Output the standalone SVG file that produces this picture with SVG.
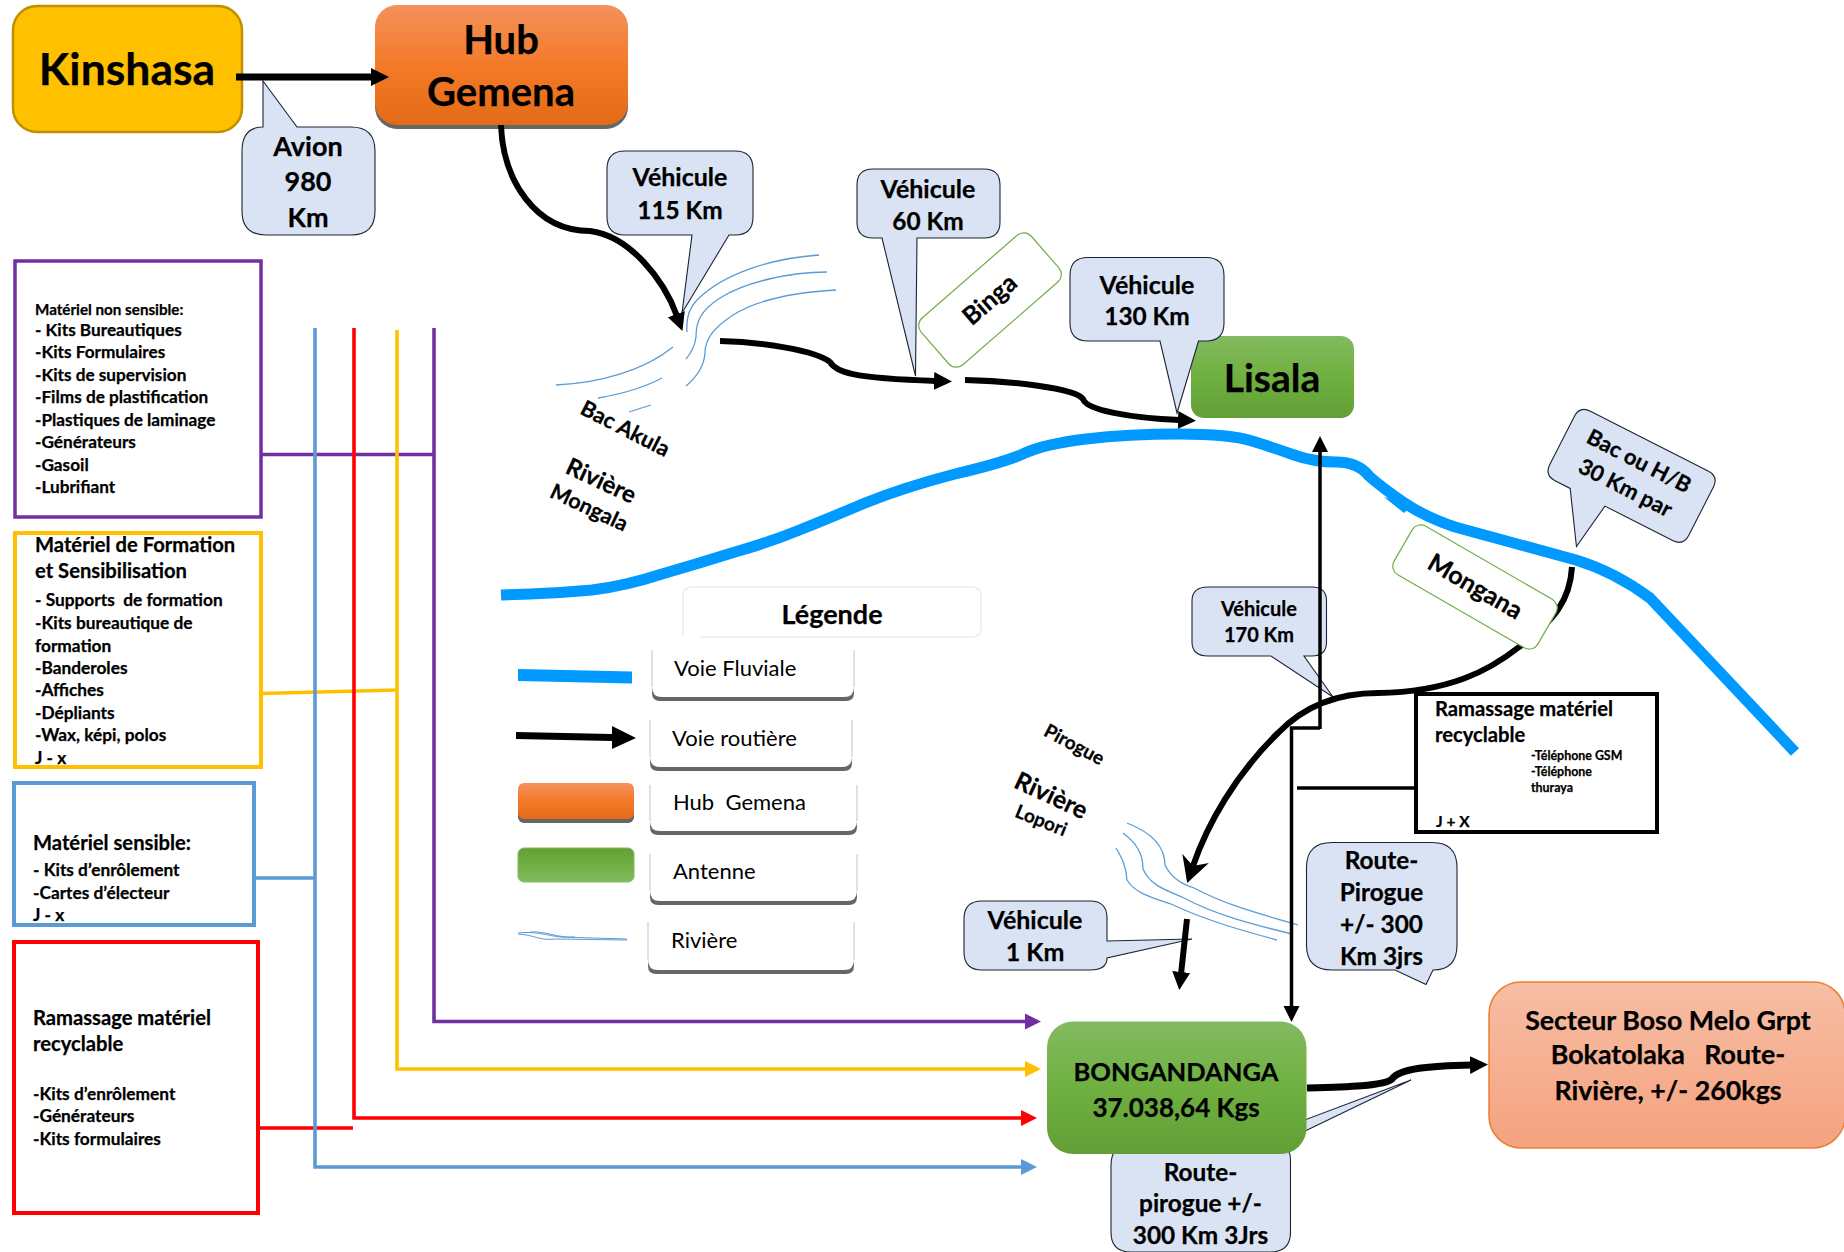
<svg xmlns="http://www.w3.org/2000/svg" width="1844" height="1252" viewBox="0 0 1844 1252">
<style>
text{font-family:"Lato","Carlito","Noto Sans",sans-serif;font-weight:700;fill:#000;stroke:#000;stroke-width:.25}
.m{text-anchor:middle}
.l{font-weight:400;stroke:none}
.s15{font-size:17.2px}.s18{font-size:20.2px}.s16{font-size:17.3px}
.s24{font-size:25px}.s23{font-size:24.4px}.s21{font-size:22px}.s20{font-size:21.5px}.lg{font-size:22px}
.c{fill:#DAE3F3;stroke:#1c2433;stroke-width:1.1}
.tag{fill:#fff;stroke:#70AD47;stroke-width:1.2}
.rv{fill:none;stroke:#5B9BD5;stroke-width:1.3}
.road{fill:none;stroke:#000;stroke-width:6}
.thin{fill:none;stroke:#000;stroke-width:3.5}
.wire{fill:none;stroke-width:3.6}
.river{fill:none;stroke:#0099FF;stroke-width:11;stroke-linejoin:round}
.sh{fill:#666}
.lb{fill:#fff}
.ls{fill:none;stroke:#c4c4c4;stroke-width:1}
</style>
<defs>
<linearGradient id="go" x1="0" y1="0" x2="0" y2="1"><stop offset="0" stop-color="#F4915C"/><stop offset=".5" stop-color="#F47A28"/><stop offset="1" stop-color="#E36A17"/></linearGradient>
<linearGradient id="gg" x1="0" y1="0" x2="0" y2="1"><stop offset="0" stop-color="#83BA61"/><stop offset=".5" stop-color="#6FB040"/><stop offset="1" stop-color="#629F36"/></linearGradient>
<linearGradient id="gr" x1="0" y1="1" x2="0" y2="0"><stop offset="0" stop-color="#83BA61"/><stop offset=".5" stop-color="#6FB040"/><stop offset="1" stop-color="#629F36"/></linearGradient>
<linearGradient id="gs" x1="0" y1="0" x2="0" y2="1"><stop offset="0" stop-color="#F7BEA4"/><stop offset="1" stop-color="#F5A27F"/></linearGradient>
<marker id="h" markerUnits="userSpaceOnUse" markerWidth="22" markerHeight="22" refX="2" refY="10" orient="auto"><path d="M0 1L18 10L0 19Z"/></marker>
<marker id="hn" markerUnits="userSpaceOnUse" markerWidth="30" markerHeight="30" refX="8" refY="15" orient="auto"><path d="M0 1L26 15L0 29L8 15Z"/></marker>
<marker id="t" markerUnits="userSpaceOnUse" markerWidth="20" markerHeight="20" refX="2" refY="9" orient="auto"><path d="M0 1L16 9L0 17Z"/></marker>
<marker id="mp" markerUnits="userSpaceOnUse" markerWidth="20" markerHeight="20" refX="2" refY="9" orient="auto"><path d="M0 1L16 9L0 17Z" fill="#7030A0"/></marker>
<marker id="my" markerUnits="userSpaceOnUse" markerWidth="20" markerHeight="20" refX="2" refY="9" orient="auto"><path d="M0 1L16 9L0 17Z" fill="#FFC000"/></marker>
<marker id="mr" markerUnits="userSpaceOnUse" markerWidth="20" markerHeight="20" refX="2" refY="9" orient="auto"><path d="M0 1L16 9L0 17Z" fill="#FF0000"/></marker>
<marker id="mb" markerUnits="userSpaceOnUse" markerWidth="20" markerHeight="20" refX="2" refY="9" orient="auto"><path d="M0 1L16 9L0 17Z" fill="#5B9BD5"/></marker>
</defs>

<g id="riviere-mongala-voie">
<path class="river" d="M501 595L530 594Q560 593 592 590Q625 586 662 574Q700 563 735 552Q770 542 797 531Q825 520 865 503Q905 487 955 474Q1006 462 1025 453Q1045 444 1086 439Q1128 434 1179 434Q1230 434 1252 441Q1275 448 1294 455Q1314 462 1336 462Q1358 462 1369 476Q1380 486 1403 502Q1425 517 1455 527L1576 560Q1615 572 1650 598L1795 752"/>
<path d="M1384 497L1412 505L1404 513Z" fill="#0099FF"/>
</g>

<g id="rivieres" class="rv">
<path d="M819 255C775 258 725 272 697 300C688 309 686 320 687 332"/>
<path d="M827 272C790 272 745 282 720 298C700 311 696 322 696 337C695 345 692 352 686 359"/>
<path d="M836 290C800 292 760 298 733 315C715 327 705 338 705 353C704 366 698 376 686 386"/>
<path d="M556 385C600 383 645 370 673 347"/>
<path d="M598 398C622 394 645 387 662 378"/>
<path d="M629 412L651 405"/>
<path d="M1127 823C1150 832 1165 845 1165 865C1172 880 1185 885 1194 888C1230 907 1265 915 1298 925"/>
<path d="M1123 833C1135 842 1143 852 1143 869C1150 885 1165 890 1182 897C1215 915 1255 925 1292 934"/>
<path d="M1116 848C1122 858 1126 866 1127 880C1135 893 1150 897 1171 904C1205 920 1240 930 1277 940"/>
</g>

<g id="legende">
<path d="M683 636V596Q683 587 693 587H971Q981 587 981 596V628Q981 637 971 637H700" fill="#fff" stroke="#f0f0f0" stroke-width="2"/>
<text class="m" font-size="27" x="832" y="624">Légende</text>
<path d="M518 669L632 671.5V683.5L518 681Z" fill="#0099FF"/>
<path d="M516 732L612 734V726L636 738L612 749V741L516 739Z"/>
<rect class="sh" x="518" y="786" width="116" height="37" rx="6"/>
<rect x="518" y="783" width="116" height="36" rx="6" fill="url(#go)"/>
<rect x="518" y="848" width="116" height="34" rx="6" fill="url(#gr)" stroke="#83BA61"/>
<path d="M518 933C535 931 545 935 560 937L627 939M518 934C535 935 540 941 555 939L627 940M530 932C548 931 555 938 575 937" fill="none" stroke="#5B9BD5" stroke-width="1"/>
<path class="sh" d="M652 685V693Q652 701 660 701H846Q854 701 854 693V685Z"/><path class="lb" d="M652 647V687Q652 697 662 697H844Q854 697 854 687V647Z"/><path class="ls" d="M652 650V687M854 650V687"/>
<path class="sh" d="M650 755V763Q650 771 658 771H844Q852 771 852 763V755Z"/><path class="lb" d="M650 717V757Q650 767 660 767H842Q852 767 852 757V717Z"/><path class="ls" d="M650 720V757M852 720V757"/>
<path class="sh" d="M650 819V827Q650 835 658 835H849Q857 835 857 827V819Z"/><path class="lb" d="M650 782V821Q650 831 660 831H847Q857 831 857 821V782Z"/><path class="ls" d="M650 785V821M857 785V821"/>
<path class="sh" d="M650 889V897Q650 905 658 905H849Q857 905 857 897V889Z"/><path class="lb" d="M650 851V891Q650 901 660 901H847Q857 901 857 891V851Z"/><path class="ls" d="M650 854V891M857 854V891"/>
<path class="sh" d="M648 958V966Q648 974 656 974H846Q854 974 854 966V958Z"/><path class="lb" d="M648 919V960Q648 970 658 970H844Q854 970 854 960V919Z"/><path class="ls" d="M648 922V960M854 922V960"/>
<text class="l lg" x="674" y="676">Voie Fluviale</text>
<text class="l lg" x="672" y="746">Voie routière</text>
<text class="l lg" x="673" y="810" xml:space="preserve">Hub  Gemena</text>
<text class="l lg" x="673" y="879">Antenne</text>
<text class="l lg" x="671" y="948">Rivière</text>
</g>

<g id="kinshasa"><rect x="13" y="6" width="229" height="126" rx="24" fill="#FFC000" stroke="#BF9000" stroke-width="2.5"/><text class="m" x="127" y="85" font-size="44.5">Kinshasa</text></g>
<g id="hub-gemena"><rect class="sh" x="375" y="9" width="253" height="120" rx="22"/><rect x="375" y="5" width="253" height="120" rx="22" fill="url(#go)"/><text class="m" x="501" y="54" font-size="40">Hub</text><text class="m" x="501" y="106" font-size="40">Gemena</text></g>
<g id="avion"><path class="c" d="M263 81L297 127H351Q375 127 375 151V211Q375 235 351 235H266Q242 235 242 211V151Q242 127 263 127Z"/><text class="m" x="308" y="156" font-size="27">Avion</text><text class="m" x="308" y="191" font-size="27">980</text><text class="m" x="308" y="227" font-size="27">Km</text></g>
<g id="vehicule-115"><path class="c" d="M625 151H735Q753 151 753 169V217Q753 235 735 235H729L682 313L692 235H625Q607 235 607 217V169Q607 151 625 151Z"/><text class="m s24" x="680" y="186">Véhicule</text><text class="m s23" x="680" y="219">115 Km</text></g>
<g id="vehicule-60"><path class="c" d="M873 169H984Q1000 169 1000 185V222Q1000 238 984 238H917L915.5 376L882 238H873Q857 238 857 222V185Q857 169 873 169Z"/><text class="m s24" x="928" y="197.5">Véhicule</text><text class="m s23" x="928" y="229.5">60 Km</text></g>
<g id="lisala"><rect x="1191" y="336" width="163" height="82" rx="13" fill="url(#gg)"/><text class="m" x="1272" y="392" font-size="39">Lisala</text></g>
<g id="vehicule-130"><path class="c" d="M1088 257.500H1206Q1224 257.500 1224 275.500V323Q1224 341 1206 341H1198.500L1177 413L1160 341H1088Q1070 341 1070 323V275.500Q1070 257.500 1088 257.500Z"/><text class="m s24" x="1147" y="293.500">Véhicule</text><text class="m s23" x="1147" y="325">130 Km</text></g>
<g id="vehicule-170"><path class="c" d="M1208 587H1312Q1326.500 587 1326.500 601V642Q1326.500 656 1312 656H1304L1333 697L1271 656H1208Q1192 656 1192 642V601Q1192 587 1208 587Z"/><text class="m" x="1259" y="616" font-size="20">Véhicule</text><text class="m" x="1259" y="642" font-size="20">170 Km</text></g>
<g id="vehicule-1"><path class="c" d="M982 901H1090Q1107 901 1107 918V941L1192 939L1107 958Q1107 970 1090 970H982Q964 970 964 952V919Q964 901 982 901Z"/><text class="m s24" x="1035" y="929">Véhicule</text><text class="m s24" x="1035" y="961">1 Km</text></g>
<g id="route-pirogue"><path class="c" d="M1332 842.500H1432Q1457 842.500 1457 867.500V945Q1457 970 1433 970L1426 984.500L1395 970H1332Q1306.500 970 1306.500 945V867.500Q1306.500 842.500 1332 842.500Z"/><text class="m s23" x="1381.500" y="869">Route-</text><text class="m s23" x="1381.500" y="901">Pirogue</text><text class="m s23" x="1381.500" y="933">+/- 300</text><text class="m s23" x="1381.500" y="965">Km 3jrs</text></g>
<g id="route-pirogue-2"><path class="c" d="M1131 1145H1238L1411 1080L1276 1145Q1290.500 1145 1290.500 1160V1232Q1290.500 1252 1270 1252H1131Q1111 1252 1111 1232V1165Q1111 1145 1131 1145Z"/><text class="m s23" x="1200.500" y="1180.500">Route-</text><text class="m s23" x="1200.500" y="1212">pirogue +/-</text><text class="m s23" x="1200.500" y="1244">300 Km 3Jrs</text></g>
<g id="bongandanga"><rect x="1047" y="1021.500" width="259.500" height="132.500" rx="26" fill="url(#gg)"/><text class="m" x="1176" y="1081" font-size="25.500">BONGANDANGA</text><text class="m" x="1176" y="1116.500" font-size="26">37.038,64 Kgs</text></g>
<g id="secteur"><rect x="1489" y="982" width="356" height="166" rx="32" fill="url(#gs)" stroke="#ED7D31" stroke-width="1.500"/><text class="m" x="1668" y="1030" font-size="26.800">Secteur Boso Melo Grpt</text><text class="m" x="1668" y="1064" font-size="26.800" xml:space="preserve">Bokatolaka   Route-</text><text class="m" x="1668" y="1099.500" font-size="26.800">Rivière, +/- 260kgs</text></g>

<g id="materiel-non-sensible"><rect x="15" y="261" width="246" height="256" fill="#fff" stroke="#7030A0" stroke-width="3.500"/>
<text x="35" y="315" font-size="15.200">Matériel non sensible:</text><text class="s15" x="35" y="336">- Kits Bureautiques</text><text class="s15" x="35" y="358">-Kits Formulaires</text><text class="s15" x="35" y="381">-Kits de supervision</text><text class="s15" x="35" y="403">-Films de plastification</text><text class="s15" x="35" y="426">-Plastiques de laminage</text><text class="s15" x="35" y="448">-Générateurs</text><text class="s15" x="35" y="471">-Gasoil</text><text class="s15" x="35" y="493">-Lubrifiant</text></g>
<g id="materiel-formation"><rect x="15" y="533" width="246" height="234" fill="#fff" stroke="#FFC000" stroke-width="4"/>
<text class="s18" x="35" y="551.500">Matériel de Formation</text><text class="s18" x="35" y="578">et Sensibilisation</text><text class="s16" x="35" y="605.500" xml:space="preserve">- Supports  de formation</text><text class="s16" x="35" y="629">-Kits bureautique de</text><text class="s16" x="35" y="652">formation</text><text class="s16" x="35" y="674">-Banderoles</text><text class="s16" x="35" y="696">-Affiches</text><text class="s16" x="35" y="719">-Dépliants</text><text class="s16" x="35" y="741">-Wax, képi, polos</text><text class="s16" x="35" y="764">J - x</text></g>
<g id="materiel-sensible"><rect x="14" y="783" width="240" height="142" fill="#fff" stroke="#5B9BD5" stroke-width="4"/>
<text class="s18" x="33" y="850">Matériel sensible:</text><text class="s16" x="33" y="876">- Kits d’enrôlement</text><text class="s16" x="33" y="899">-Cartes d’électeur</text><text class="s16" x="33" y="921">J - x</text></g>
<g id="ramassage-recyclable"><rect x="14" y="942" width="244" height="271" fill="#fff" stroke="#FF0000" stroke-width="4"/>
<text class="s18" x="33" y="1025">Ramassage matériel</text><text class="s18" x="33" y="1051">recyclable</text><text class="s16" x="33" y="1100">-Kits d’enrôlement</text><text class="s16" x="33" y="1122">-Générateurs</text><text class="s16" x="33" y="1145">-Kits formulaires</text></g>

<g id="connecteurs">
<path class="wire" stroke="#7030A0" d="M434 328V1021.500H1027" marker-end="url(#mp)"/>
<path class="wire" stroke="#7030A0" d="M261 454.500H434"/>
<path class="wire" stroke="#FFC000" d="M397 330V1069H1027" marker-end="url(#my)"/>
<path class="wire" stroke="#FFC000" d="M261 693.500L397 690"/>
<path class="wire" stroke="#FF0000" d="M354 328V1118H1023" marker-end="url(#mr)"/>
<path class="wire" stroke="#FF0000" d="M258 1128H353"/>
<path class="wire" stroke="#5B9BD5" d="M315 328V1167H1023" marker-end="url(#mb)"/>
<path class="wire" stroke="#5B9BD5" d="M254 878H315"/>
<path class="road" style="stroke-width:7" d="M236 77H373" marker-end="url(#h)"/>
<path class="road" d="M501 125C503 180 535 231 590 231C630 236 664 280 677 316" marker-end="url(#h)"/>
<path class="road" d="M720 341C760 342 815 350 830 362C836 372 850 378 936 381" marker-end="url(#h)"/>
<path class="road" d="M965 380C1010 381 1075 388 1083 399C1086 410 1130 418 1180 420" marker-end="url(#h)"/>
<path class="road" d="M1572 567C1570 600 1555 620 1519 647C1490 670 1450 692 1378 693C1340 693 1305 705 1278 733C1235 775 1207 825 1193 866" marker-end="url(#hn)"/>
<path class="road" d="M1187 919L1181 974" marker-end="url(#h)"/>
<path class="road" style="stroke-width:7" d="M1307 1088C1345 1087 1385 1086 1392 1079C1400 1068 1430 1066 1472 1065" marker-end="url(#h)"/>
<path class="thin" d="M1291.500 1008V728H1320"/>
<path class="thin" d="M1320 729V450" marker-end="url(#t)"/>
<path d="M1283.500 1006H1299.500L1291.500 1022Z"/>
<path class="thin" d="M1297 788H1416"/>
</g>

<g id="binga"><rect class="tag" x="917" y="269" width="146" height="62" rx="10" transform="rotate(-41 990 300)"/><text class="m s24" x="990" y="308" transform="rotate(-41 990 300)">Binga</text></g>
<g id="mongana"><rect class="tag" x="1392" y="559" width="166" height="56" rx="10" transform="rotate(30 1475 587)"/><text class="m s24" x="1475" y="595" transform="rotate(30 1475 587)">Mongana</text></g>
<g id="bac-h-b" transform="translate(1632 475) rotate(27)"><path class="c" d="M-66 -38H66Q78 -38 78 -26V28Q78 40 66 40H-10L-17 89L-49 40H-66Q-78 40 -78 28V-26Q-78 -38 -66 -38Z"/><text class="m s21" x="0" y="-8">Bac ou H/B</text><text class="m s21" x="0" y="22">30 Km par</text></g>
<g id="ramassage-box"><rect x="1416" y="694" width="241" height="138" fill="#fff" stroke="#000" stroke-width="4"/><text class="s18" x="1435" y="716">Ramassage matériel</text><text class="s18" x="1435" y="741.500">recyclable</text><text x="1531" y="760" font-size="12.400">-Téléphone GSM</text><text x="1531" y="776" font-size="12.400">-Téléphone</text><text x="1531" y="792" font-size="12.400">thuraya</text><text x="1436" y="827" font-size="15.500">J + X</text></g>

<g id="etiquettes">
<text class="m s21" x="625" y="436" transform="rotate(27 625 429)">Bac Akula</text>
<text class="m" x="601" y="489" font-size="24" transform="rotate(25 601 481)">Rivière</text>
<text class="m s20" x="589" y="515" transform="rotate(25 589 508)">Mongala</text>
<text class="m" x="1074" y="751" font-size="19" transform="rotate(28 1074 745)">Pirogue</text>
<text class="m" x="1051" y="804" font-size="25" transform="rotate(25 1051 796)">Rivière</text>
<text class="m" x="1041" y="827" font-size="19" transform="rotate(22 1041 821)">Lopori</text>
</g>
</svg>
